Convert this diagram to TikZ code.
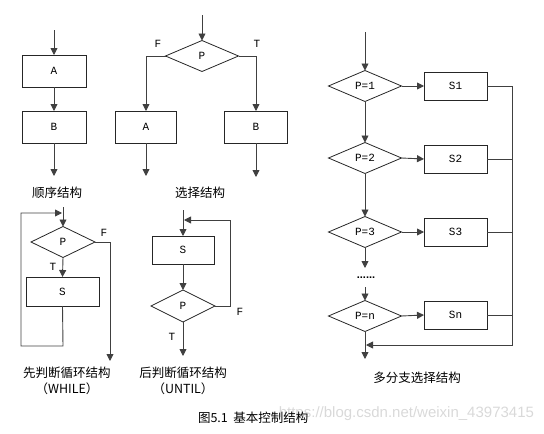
\documentclass[tikz,border=0pt]{standalone}
\usepackage{fontspec}
\setmainfont{Liberation Mono}
\newfontfamily\cjk{Noto Sans CJK SC}
\newfontfamily\wmfont{Liberation Sans}
\usetikzlibrary{shapes.geometric,arrows.meta}
\begin{document}
\begin{tikzpicture}[x=1pt,y=-1pt,
  every node/.style={inner sep=0pt,outer sep=0pt},
  conn/.style={draw=black!75,line width=0.9pt},
  arr/.style={conn,-{Triangle[length=7pt,width=7pt]}},
  box/.style={draw=black!85,line width=0.8pt,rectangle,font=\fontsize{11}{13}\selectfont},
  dia/.style={draw=black!85,line width=0.8pt,diamond,aspect=2.3,font=\fontsize{11}{13}\selectfont},
  lab/.style={font=\fontsize{11}{13}\selectfont},
  title/.style={font=\cjk\fontsize{12.5}{14}\selectfont}]
\useasboundingbox (0,0) rectangle (544,434);
% ---- sequence
\coordinate (s0) at (54,30);
\node[box,minimum width=64pt,minimum height=32pt] (A1) at (54,71) {A};
\node[box,minimum width=64pt,minimum height=32pt] (B1) at (54,127) {B};
\coordinate (s1) at (54,176);
\draw[arr] (s0) -- (A1.north);
\draw[arr] (A1.south) -- (B1.north);
\draw[arr] (B1.south) -- (s1);
\node[title] (t1) at (57,193) {顺序结构};
% ---- selection
\coordinate (c0) at (202,15);
\node[dia,minimum width=73pt,minimum height=31pt] (P1) at (202,56) {P};
\node[box,minimum width=61pt,minimum height=32pt] (A2) at (146,127) {A};
\node[box,minimum width=63pt,minimum height=32pt] (B2) at (256,127) {B};
\coordinate (c1) at (146,176);
\coordinate (c2) at (256,177);
\draw[arr] (c0) -- (P1.north);
\draw[arr] (P1.west) -| (A2.north);
\draw[arr] (P1.east) -| (B2.north);
\draw[arr] (A2.south) -- (c1);
\draw[arr] (B2.south) -- (c2);
\node[lab] (f1) at (158,44) {F};
\node[lab] (tt1) at (257,44) {T};
\node[title] (t2) at (200,193) {选择结构};
% ---- while
\coordinate (w0) at (63,207);
\node[dia,minimum width=64pt,minimum height=31pt] (Pw) at (63,242) {P};
\node[box,minimum width=73pt,minimum height=29pt] (Sw) at (62.5,291.5) {S};
\coordinate (wb) at (63,346);
\coordinate (wl) at (21,346);
\coordinate (wt) at (21,213);
\coordinate (wa) at (62,213);
\coordinate (wr) at (110,242);
\coordinate (we) at (110,361);
\draw[arr] (w0) -- (Pw.north);
\draw[arr] (Pw.south) -- (Sw.north);
\draw[arr] (Sw.south) -- (wb) -- (wl) -- (wt) -- (wa);
\draw[arr] (Pw.east) -- (wr) -- (we);
\node[lab] (tw) at (53,267) {T};
\node[lab] (fw) at (104,233) {F};
\node[title] (t3) at (67,373) {先判断循环结构};
\node[title] (t3b) at (67,389) {（WHILE）};
% ---- until
\coordinate (u0) at (183,210);
\node[box,minimum width=62pt,minimum height=28pt] (Su) at (183,250) {S};
\node[dia,minimum width=64pt,minimum height=32pt] (Pu) at (183,306) {P};
\coordinate (ue) at (183,356);
\coordinate (ur) at (230,306);
\coordinate (ut) at (230,220);
\coordinate (ua) at (184,220);
\draw[arr] (u0) -- (Su.north);
\draw[arr] (Su.south) -- (Pu.north);
\draw[arr] (Pu.south) -- (ue);
\draw[arr] (Pu.east) -- (ur) -- (ut) -- (ua);
\node[lab] (fu) at (240,312) {F};
\node[lab] (tu) at (172,337) {T};
\node[title] (t4) at (183,373) {后判断循环结构};
\node[title] (t4b) at (183,389) {（UNTIL）};
% ---- multi-branch
\coordinate (m0) at (365,32);
\node[dia,minimum width=73pt,minimum height=31pt] (D1) at (365,86) {P=1};
\node[dia,minimum width=73pt,minimum height=31pt] (D2) at (365,158) {P=2};
\node[dia,minimum width=73pt,minimum height=31pt] (D3) at (365,232) {P=3};
\node[dia,minimum width=73pt,minimum height=31pt] (Dn) at (365,316) {P=n};
\node[box,minimum width=63pt,minimum height=28pt] (S1) at (455.5,86) {S1};
\node[box,minimum width=63pt,minimum height=28pt] (S2) at (455.5,159) {S2};
\node[box,minimum width=63pt,minimum height=28pt] (S3) at (455.5,232) {S3};
\node[box,minimum width=63pt,minimum height=28pt] (Sn) at (455.5,315) {Sn};
\coordinate (m3) at (365,268);
\node[font=\wmfont\bfseries\fontsize{11}{13}\selectfont] (dots) at (366,278) {......};
\coordinate (m4) at (365,287);
\coordinate (m5) at (365,359);
\coordinate (r1) at (512,86);
\coordinate (r2) at (512,159);
\coordinate (r3) at (512,232);
\coordinate (rn) at (512,315);
\coordinate (rb) at (512,345);
\coordinate (ra) at (366,345);
\draw[arr] (m0) -- (D1.north);
\draw[arr] (D1.south) -- (D2.north);
\draw[arr] (D2.south) -- (D3.north);
\draw[arr] (D3.south) -- (m3);
\draw[arr] (m4) -- (Dn.north);
\draw[arr] (Dn.south) -- (m5);
\draw[arr] (D1.east) -- (S1.west);
\draw[arr] (D2.east) -- (S2.west);
\draw[arr] (D3.east) -- (S3.west);
\draw[arr] (Dn.east) -- (Sn.west);
\draw[conn] (S1.east) -- (r1);
\draw[conn] (S2.east) -- (r2);
\draw[conn] (S3.east) -- (r3);
\draw[conn] (Sn.east) -- (rn);
\draw[arr] (r1) -- (rb) -- (ra);
\node[title] (t5) at (417,378) {多分支选择结构};
% ---- caption and watermark
\node[font=\wmfont\fontsize{15}{17}\selectfont,text=black!15,anchor=east] (wm) at (534,414) {https://blog.csdn.net/weixin\_43973415};
\node[title,anchor=west] (cap) at (198,418) {图5.1\ \ 基本控制结构};
\end{tikzpicture}
\end{document}
